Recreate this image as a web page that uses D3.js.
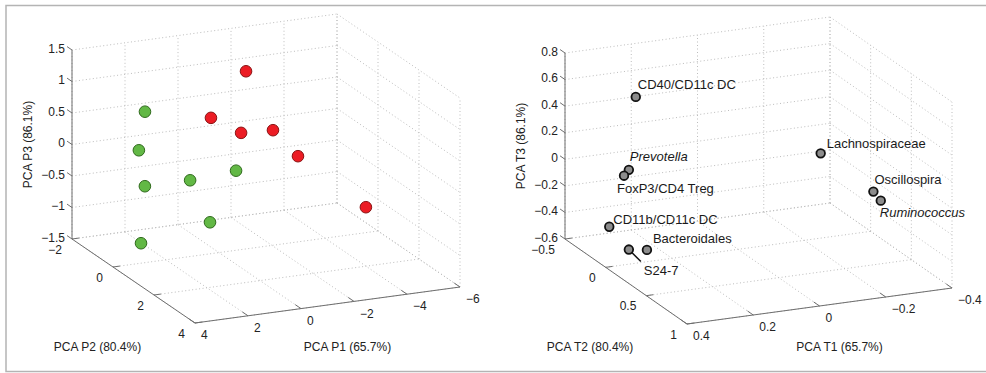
<!DOCTYPE html>
<html>
<head>
<meta charset="utf-8">
<script src="https://cdn.jsdelivr.net/npm/d3@7"></script>
<style>
  body { margin: 0; background: #fff; }
  svg { display: block; font-family: "Liberation Sans", Arial, Helvetica, sans-serif; }
</style>
</head>
<body>
<svg id="chart" width="986" height="373"></svg>
<script>
// ---- left panel: samples in PCA space ----
const greenP1 = [2.02, 3.41, 2.41, 1.09, 0.13, 1.50, 3.33];
const greenP2 = [-1, 0.5, -0.5, 0, 1, 1.5, 0.5];
const greenP3 = [0.63, 0.43, -0.42, -0.29, 0.03, -0.60, -1.05];

const redP1 = [-2.18, -0.47, -1.22, -2.81, -2.98, -4.77];
const redP2 = [-1.5, -1, -0.5, -1, 0, 1];
const redP3 = [0.92, 0.39, 0.22, 0.06, -0.14, -0.83];

const p1Ticks = [4, 2, 0, -2, -4, -6];
const p2Ticks = [-2, 0, 2, 4];
const p3Ticks = [-1.5, -1, -0.5, 0, 0.5, 1, 1.5];

// ---- right panel: variables in PCA space ----
const taxa = ['CD40/CD11c DC', 'Prevotella', 'FoxP3/CD4 Treg', 'CD11b/CD11c DC',
  'S24-7', 'Bacteroidales', 'Lachnospiraceae', 'Oscillospira', 'Ruminococcus'];
const taxaT1 = [0.26, 0.33, 0.32, 0.34, 0.33, 0.30, -0.20, -0.31, -0.32];
const taxaT2 = [-0.2, 0, -0.1, -0.2, 0, 0.1, 0.2, 0.4, 0.45];
const taxaT3 = [0.55, 0.11, 0.02, -0.40, -0.49, -0.46, 0.14, -0.10, -0.15];
const italicTaxa = ['Prevotella', 'Ruminococcus'];

const t1Ticks = [0.4, 0.2, 0, -0.2, -0.4];
const t2Ticks = [-0.5, 0, 0.5, 1];
const t3Ticks = [-0.6, -0.4, -0.2, 0, 0.2, 0.4, 0.6, 0.8];

// label placement relative to the marker (dx, dy)
const labelOffset = {
  'CD40/CD11c DC': [2, -12],
  'Prevotella': [1, -13],
  'FoxP3/CD4 Treg': [-7, 13],
  'CD11b/CD11c DC': [4, -7],
  'S24-7': [15, 21],
  'Bacteroidales': [6, -11],
  'Lachnospiraceae': [6, -10],
  'Oscillospira': [1, -12],
  'Ruminococcus': [-1, 12]
};

const svg = d3.select('#chart');

svg.append('rect')
  .attr('x', 6).attr('y', 5.5)
  .attr('width', 1000).attr('height', 366)
  .attr('fill', 'none')
  .attr('stroke', '#b4b4b4')
  .attr('stroke-width', 1.5);

const fmt = (v) => String(v).replace('-', '\u2212');

function drawPanel(cfg) {
  const g = svg.append('g');
  const sx = d3.scaleLinear().domain(cfg.x.domain).range([0, 1]);
  const sy = d3.scaleLinear().domain(cfg.y.domain).range([0, 1]);
  const sz = d3.scaleLinear().domain(cfg.z.domain).range([0, 1]);

  const proj = (x, y, z) => {
    const a = sx(x), b = sy(y), c = sz(z);
    return [
      cfg.o[0] + a * cfg.ex[0] + b * cfg.ey[0] + c * cfg.ez[0],
      cfg.o[1] + a * cfg.ex[1] + b * cfg.ey[1] + c * cfg.ez[1]
    ];
  };

  const [x0, x1] = cfg.x.domain;
  const [y0, y1] = cfg.y.domain;
  const [z0, z1] = cfg.z.domain;

  // dotted grid on back wall, side wall and floor
  const grid = g.append('g');
  const gridLine = (p, q) => grid.append('line')
    .attr('x1', p[0]).attr('y1', p[1]).attr('x2', q[0]).attr('y2', q[1])
    .attr('stroke', '#bdbdbd')
    .attr('stroke-width', 1)
    .attr('stroke-dasharray', '1,2.5');

  cfg.x.ticks.forEach(t => {
    gridLine(proj(t, y0, z0), proj(t, y0, z1));
    gridLine(proj(t, y0, z0), proj(t, y1, z0));
  });
  cfg.y.ticks.forEach(t => {
    gridLine(proj(x1, t, z0), proj(x1, t, z1));
    gridLine(proj(x0, t, z0), proj(x1, t, z0));
  });
  cfg.z.ticks.forEach(t => {
    gridLine(proj(x0, y0, t), proj(x1, y0, t));
    gridLine(proj(x1, y0, t), proj(x1, y1, t));
  });

  // solid axes
  const axisLine = (p, q) => g.append('line')
    .attr('x1', p[0]).attr('y1', p[1]).attr('x2', q[0]).attr('y2', q[1])
    .attr('stroke', '#6e6e6e')
    .attr('stroke-width', 1);

  axisLine(proj(x0, y0, z0), proj(x0, y0, z1));
  axisLine(proj(x0, y0, z0), proj(x0, y1, z0));
  axisLine(proj(x0, y1, z0), proj(x1, y1, z0));

  const eyLen = Math.hypot(cfg.ey[0], cfg.ey[1]);
  const exLen = Math.hypot(cfg.ex[0], cfg.ex[1]);
  const uy = [cfg.ey[0] / eyLen, cfg.ey[1] / eyLen];
  const ux = [cfg.ex[0] / exLen, cfg.ex[1] / exLen];

  const tickText = (x, y, s, anchor) => g.append('text')
    .attr('x', x).attr('y', y).attr('dy', '0.35em')
    .attr('text-anchor', anchor)
    .attr('font-size', 12)
    .attr('fill', '#222')
    .text(s);

  cfg.z.ticks.forEach(t => {
    const p = proj(x0, y0, t);
    axisLine(p, [p[0] - uy[0] * 6, p[1] - uy[1] * 6]);
    tickText(p[0] - 7, p[1] - 1.5, fmt(t), 'end');
  });
  cfg.y.ticks.forEach(t => {
    const p = proj(x0, t, z0);
    axisLine(p, [p[0] + ux[0] * 7, p[1] + ux[1] * 7]);
    tickText(p[0] - 10, p[1] + 10.5, fmt(t), 'end');
  });
  cfg.x.ticks.forEach(t => {
    const p = proj(t, y1, z0);
    axisLine(p, [p[0] - uy[0] * 7, p[1] - uy[1] * 7]);
    tickText(p[0] + 6, p[1] + 12, fmt(t), 'start');
  });

  // axis titles
  const xa = proj(x0, y1, z0), xb = proj(x1, y1, z0);
  tickText((xa[0] + xb[0]) / 2 + 20, 347, cfg.x.title, 'middle');
  const ya = proj(x0, y0, z0), yb = proj(x0, y1, z0);
  tickText((ya[0] + yb[0]) / 2 - 36, 347, cfg.y.title, 'middle');
  const za = proj(x0, y0, z0), zb = proj(x0, y0, z1);
  g.append('text')
    .attr('transform', `translate(${cfg.o[0] - 44},${(za[1] + zb[1]) / 2}) rotate(-90)`)
    .attr('dy', '0.35em')
    .attr('text-anchor', 'middle')
    .attr('font-size', 12)
    .attr('fill', '#222')
    .text(cfg.z.title);

  return { g, proj };
}

// ---- left panel ----
const left = drawPanel({
  o: [72, 239], ex: [265, -36], ey: [123, 84], ez: [0, -189],
  x: { domain: [4, -6], ticks: p1Ticks, title: 'PCA P1 (65.7%)' },
  y: { domain: [-2, 4], ticks: p2Ticks, title: 'PCA P2 (80.4%)' },
  z: { domain: [-1.5, 1.5], ticks: p3Ticks, title: 'PCA P3 (86.1%)' }
});

const greenPts = greenP1.map((v, i) => left.proj(v, greenP2[i], greenP3[i]));
const redPts = redP1.map((v, i) => left.proj(v, redP2[i], redP3[i]));

left.g.selectAll('circle.green')
  .data(greenPts)
  .enter()
  .append('circle')
  .attr('class', 'green')
  .attr('cx', d => d[0])
  .attr('cy', d => d[1])
  .attr('r', 5.8)
  .attr('fill', '#62b845')
  .attr('stroke', '#2f6a1c')
  .attr('stroke-width', 1);

left.g.selectAll('circle.red')
  .data(redPts)
  .enter()
  .append('circle')
  .attr('class', 'red')
  .attr('cx', d => d[0])
  .attr('cy', d => d[1])
  .attr('r', 5.8)
  .attr('fill', '#ec1c24')
  .attr('stroke', '#8a1414')
  .attr('stroke-width', 1);

// ---- right panel ----
const right = drawPanel({
  o: [565, 239], ex: [265, -36], ey: [122, 85], ez: [0, -186],
  x: { domain: [0.4, -0.4], ticks: t1Ticks, title: 'PCA T1 (65.7%)' },
  y: { domain: [-0.5, 1], ticks: t2Ticks, title: 'PCA T2 (80.4%)' },
  z: { domain: [-0.6, 0.8], ticks: t3Ticks, title: 'PCA T3 (86.1%)' }
});

const taxaPts = taxa.map((name, i) => {
  const p = right.proj(taxaT1[i], taxaT2[i], taxaT3[i]);
  return { name, x: p[0], y: p[1] };
});

// leader line for S24-7
taxaPts.filter(d => d.name === 'S24-7').forEach(d => {
  right.g.append('line')
    .attr('x1', d.x).attr('y1', d.y)
    .attr('x2', d.x + 12).attr('y2', d.y + 12)
    .attr('stroke', '#111')
    .attr('stroke-width', 1.5);
});

right.g.selectAll('circle.taxon')
  .data(taxaPts)
  .enter()
  .append('circle')
  .attr('class', 'taxon')
  .attr('cx', d => d.x)
  .attr('cy', d => d.y)
  .attr('r', 4.3)
  .attr('fill', '#8c8c8c')
  .attr('stroke', '#111')
  .attr('stroke-width', 1.8);

right.g.selectAll('text.taxon')
  .data(taxaPts)
  .enter()
  .append('text')
  .attr('class', 'taxon')
  .attr('x', d => d.x + labelOffset[d.name][0])
  .attr('y', d => d.y + labelOffset[d.name][1])
  .attr('dy', '0.35em')
  .attr('font-size', 13)
  .attr('fill', '#1a1a1a')
  .attr('font-style', d => italicTaxa.includes(d.name) ? 'italic' : 'normal')
  .text(d => d.name);
</script>
</body>
</html>
